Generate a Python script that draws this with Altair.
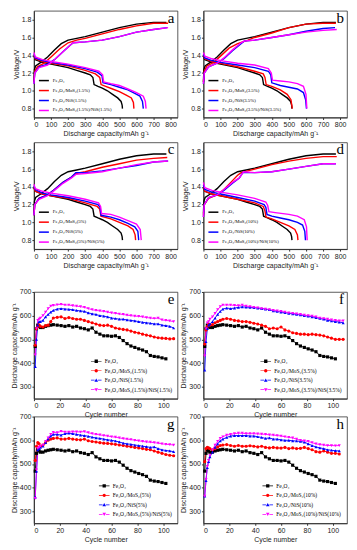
import altair as alt
import pandas as pd

COLORS = ["#000000", "#ff0000", "#0000ff", "#ff00ff"]
PCTS = ["1.5%", "3.5%", "5%", "10%"]
LETTERS_GCD = ["a", "b", "c", "d"]
LETTERS_CYC = ["e", "f", "g", "h"]
CAP_TICKS = [0, 100, 200, 300, 400, 500, 600, 700, 800]
VOLT_TICKS = [0.8, 1.0, 1.2, 1.4, 1.6, 1.8]
CYC_TICKS = [0, 20, 40, 60, 80, 100]
CAPY_TICKS = [300, 400, 500, 600, 700]

# ---------- galvanostatic curves (capacity mAh/g, voltage V) ----------
FE_DIS = [(0, 1.39), (8, 1.35), (50, 1.32), (100, 1.3), (150, 1.28), (200, 1.26), (250, 1.23), (300, 1.2), (330, 1.18), (345, 1.15), (352, 1.07), (375, 1.05), (400, 1.03), (430, 1.0), (460, 0.96), (490, 0.92), (510, 0.88), (516, 0.84), (518, 0.8)]
FE_CHG = [(0, 1.1), (3, 1.24), (10, 1.28), (40, 1.32), (80, 1.38), (120, 1.46), (160, 1.53), (200, 1.57), (250, 1.59), (300, 1.61), (400, 1.66), (500, 1.71), (600, 1.75), (700, 1.77), (775, 1.77)]

A_MOS_DIS = [(0, 1.4), (8, 1.36), (50, 1.33), (100, 1.31), (200, 1.28), (300, 1.23), (360, 1.19), (385, 1.15), (393, 1.07), (420, 1.05), (460, 1.02), (500, 0.99), (540, 0.95), (570, 0.92), (582, 0.87), (585, 0.8)]
A_MOS_CHG = [(0, 1.1), (5, 1.22), (20, 1.27), (60, 1.31), (100, 1.38), (150, 1.47), (200, 1.54), (250, 1.57), (300, 1.59), (400, 1.64), (500, 1.69), (600, 1.73), (700, 1.76), (785, 1.76)]
A_NIS_DIS = [(0, 1.41), (8, 1.37), (50, 1.34), (100, 1.32), (200, 1.29), (300, 1.25), (370, 1.21), (398, 1.17), (404, 1.09), (450, 1.07), (500, 1.04), (550, 1.01), (590, 0.97), (620, 0.94), (635, 0.88), (640, 0.8)]
A_NIS_CHG = [(0, 1.08), (5, 1.2), (30, 1.27), (80, 1.3), (120, 1.35), (170, 1.44), (210, 1.51), (230, 1.54), (300, 1.55), (400, 1.57), (500, 1.61), (600, 1.66), (700, 1.69), (780, 1.71)]
A_MIX_DIS = [(0, 1.43), (8, 1.38), (50, 1.35), (100, 1.33), (200, 1.3), (300, 1.26), (380, 1.22), (402, 1.18), (408, 1.1), (450, 1.08), (500, 1.06), (550, 1.02), (600, 0.98), (640, 0.94), (652, 0.88), (656, 0.8)]
A_MIX_CHG = [(0, 1.08), (5, 1.2), (30, 1.26), (80, 1.29), (120, 1.35), (170, 1.44), (210, 1.51), (230, 1.54), (300, 1.55), (400, 1.57), (500, 1.61), (600, 1.66), (700, 1.69), (785, 1.71)]

B_MOS_DIS = [(0, 1.4), (8, 1.36), (50, 1.33), (100, 1.31), (200, 1.27), (300, 1.22), (350, 1.19), (360, 1.15), (367, 1.07), (400, 1.05), (450, 1.01), (490, 0.96), (512, 0.9), (520, 0.8)]
B_MOS_CHG = [(0, 1.1), (5, 1.22), (20, 1.28), (60, 1.32), (100, 1.39), (150, 1.48), (200, 1.53), (260, 1.57), (300, 1.6), (400, 1.65), (500, 1.71), (600, 1.75), (700, 1.76), (775, 1.76)]
B_NIS_DIS = [(0, 1.41), (8, 1.37), (50, 1.34), (100, 1.32), (200, 1.29), (300, 1.26), (380, 1.22), (394, 1.18), (400, 1.09), (450, 1.06), (500, 1.04), (550, 1.02), (585, 0.98), (598, 0.9), (603, 0.8)]
B_NIS_CHG = [(0, 1.08), (5, 1.2), (30, 1.27), (80, 1.31), (120, 1.36), (170, 1.45), (220, 1.53), (240, 1.56), (300, 1.57), (400, 1.6), (500, 1.63), (600, 1.67), (700, 1.7), (770, 1.71)]
B_MIX_DIS = [(0, 1.43), (8, 1.39), (50, 1.36), (100, 1.34), (200, 1.31), (300, 1.29), (380, 1.25), (397, 1.2), (404, 1.12), (450, 1.11), (500, 1.1), (550, 1.08), (585, 1.05), (600, 0.96), (605, 0.8)]
B_MIX_CHG = [(0, 1.08), (5, 1.2), (30, 1.27), (80, 1.31), (120, 1.37), (170, 1.46), (220, 1.54), (240, 1.56), (300, 1.57), (400, 1.6), (500, 1.63), (600, 1.66), (700, 1.68), (780, 1.69)]

C_MOS_DIS = [(0, 1.39), (8, 1.35), (50, 1.32), (100, 1.3), (200, 1.27), (300, 1.22), (370, 1.18), (385, 1.15), (392, 1.07), (450, 1.04), (500, 1.0), (550, 0.96), (580, 0.92), (592, 0.86), (595, 0.8)]
C_MOS_CHG = [(0, 1.08), (5, 1.2), (30, 1.27), (80, 1.31), (120, 1.37), (170, 1.45), (220, 1.51), (245, 1.55), (300, 1.57), (400, 1.62), (500, 1.66), (600, 1.7), (700, 1.72), (780, 1.73)]
C_NIS_DIS = [(0, 1.41), (8, 1.37), (50, 1.33), (100, 1.31), (200, 1.28), (300, 1.24), (375, 1.2), (387, 1.17), (393, 1.08), (450, 1.06), (500, 1.03), (550, 0.99), (590, 0.95), (608, 0.9), (613, 0.8)]
C_NIS_CHG = [(0, 1.08), (5, 1.2), (30, 1.27), (80, 1.31), (120, 1.37), (170, 1.45), (220, 1.51), (245, 1.56), (300, 1.56), (400, 1.58), (500, 1.61), (600, 1.64), (700, 1.68), (785, 1.69)]
C_MIX_DIS = [(0, 1.43), (8, 1.38), (50, 1.35), (100, 1.33), (200, 1.3), (300, 1.26), (378, 1.22), (390, 1.18), (396, 1.1), (450, 1.09), (500, 1.06), (550, 1.02), (600, 0.98), (622, 0.92), (628, 0.8)]
C_MIX_CHG = [(0, 1.08), (5, 1.2), (30, 1.26), (80, 1.3), (120, 1.36), (170, 1.44), (220, 1.5), (245, 1.54), (300, 1.55), (400, 1.57), (500, 1.61), (600, 1.65), (700, 1.68), (785, 1.69)]

D_MOS_DIS = [(0, 1.4), (8, 1.35), (50, 1.32), (100, 1.3), (200, 1.26), (300, 1.22), (350, 1.18), (360, 1.13), (366, 1.06), (400, 1.04), (450, 1.0), (500, 0.96), (535, 0.92), (550, 0.86), (553, 0.8)]
D_MOS_CHG = [(0, 1.08), (5, 1.2), (30, 1.27), (80, 1.31), (120, 1.37), (170, 1.47), (200, 1.53), (220, 1.56), (300, 1.6), (400, 1.65), (500, 1.69), (600, 1.72), (700, 1.74), (780, 1.74)]
D_NIS_DIS = [(0, 1.42), (8, 1.37), (50, 1.34), (100, 1.32), (200, 1.28), (300, 1.24), (355, 1.2), (365, 1.17), (372, 1.09), (400, 1.07), (450, 1.05), (500, 1.03), (550, 1.0), (580, 0.97), (593, 0.9), (597, 0.8)]
D_NIS_CHG = [(0, 1.06), (5, 1.2), (30, 1.28), (80, 1.31), (120, 1.36), (170, 1.44), (210, 1.5), (230, 1.56), (300, 1.56), (400, 1.57), (500, 1.6), (600, 1.63), (700, 1.66), (775, 1.66)]
D_MIX_DIS = [(0, 1.45), (8, 1.39), (50, 1.36), (100, 1.34), (200, 1.31), (300, 1.27), (365, 1.23), (376, 1.19), (383, 1.12), (420, 1.11), (500, 1.09), (550, 1.07), (590, 1.03), (603, 0.95), (607, 0.8)]
D_MIX_CHG = [(0, 1.06), (5, 1.2), (30, 1.28), (80, 1.31), (120, 1.37), (170, 1.45), (210, 1.5), (235, 1.57), (300, 1.56), (400, 1.57), (500, 1.6), (600, 1.63), (700, 1.66), (775, 1.66)]

GCD = [
    [(FE_DIS, FE_CHG), (A_MOS_DIS, A_MOS_CHG), (A_NIS_DIS, A_NIS_CHG), (A_MIX_DIS, A_MIX_CHG)],
    [(FE_DIS, FE_CHG), (B_MOS_DIS, B_MOS_CHG), (B_NIS_DIS, B_NIS_CHG), (B_MIX_DIS, B_MIX_CHG)],
    [(FE_DIS, FE_CHG), (C_MOS_DIS, C_MOS_CHG), (C_NIS_DIS, C_NIS_CHG), (C_MIX_DIS, C_MIX_CHG)],
    [(FE_DIS, FE_CHG), (D_MOS_DIS, D_MOS_CHG), (D_NIS_DIS, D_NIS_CHG), (D_MIX_DIS, D_MIX_CHG)],
]

# ---------- cycling (cycle number, discharge capacity mAh/g) ----------
CYC = [1, 2, 3, 4, 5, 7, 9, 11, 13, 15, 18, 21, 24, 27, 30, 33, 36, 39, 42, 45, 48, 51, 54, 57, 60,
       63, 66, 69, 72, 75, 78, 81, 84, 87, 90, 93, 96, 99, 102, 105, 108]
FE_CYC = [470, 545, 560, 555, 550, 550, 555, 558, 560, 562, 560, 558, 555, 558, 552, 555, 548, 545, 540, 548,
          530, 522, 515, 515, 513, 515, 508, 495, 482, 472, 466, 460, 455, 448, 432, 428, 426, 422, 418]
E_MOS = [475, 545, 555, 560, 555, 552, 558, 560, 575, 590, 593, 595, 588, 592, 588, 585, 585, 580, 575, 570,
         565, 560, 558, 560, 555, 548, 545, 542, 540, 535, 530, 527, 522, 518, 515, 510, 507, 505, 504, 502, 503]
E_NIS = [385, 500, 560, 575, 575, 580, 595, 605, 615, 622, 628, 630, 628, 627, 625, 622, 620, 618, 612, 608,
         605, 600, 598, 595, 590, 588, 585, 585, 582, 580, 578, 575, 572, 570, 568, 565, 565, 560, 558, 555, 548]
E_MIX = [435, 545, 580, 585, 590, 600, 615, 630, 640, 643, 646, 648, 645, 645, 642, 640, 638, 635, 630, 625,
         622, 620, 618, 615, 612, 610, 607, 605, 602, 600, 598, 597, 595, 592, 590, 588, 590, 582, 580, 578, 575]
F_MOS = [480, 540, 555, 565, 560, 562, 570, 575, 580, 585, 588, 585, 580, 578, 575, 575, 572, 568, 565, 560,
         555, 545, 548, 545, 552, 540, 535, 528, 525, 522, 522, 520, 522, 520, 518, 515, 510, 505, 500, 500, 500]
F_NIS = [370, 490, 545, 560, 565, 575, 590, 605, 618, 628, 632, 630, 632, 635, 637, 636, 635, 634, 632, 630,
         628, 625, 620, 618, 615, 613, 610, 608, 605, 603, 600, 598, 595, 592, 588, 585, 580, 578, 575, 573, 570]
F_MIX = [430, 545, 570, 575, 585, 595, 610, 625, 638, 645, 645, 645, 643, 642, 645, 640, 638, 635, 633, 630,
         628, 625, 622, 620, 618, 615, 612, 610, 608, 605, 602, 600, 598, 595, 590, 588, 585, 582, 580, 578, 578]
G_MOS = [515, 575, 590, 585, 575, 580, 590, 600, 605, 608, 610, 605, 605, 608, 605, 603, 602, 605, 598, 595,
         593, 590, 588, 587, 585, 583, 580, 578, 575, 573, 570, 568, 565, 562, 560, 555, 550, 545, 540, 537, 535]
G_NIS = [360, 470, 560, 565, 570, 575, 590, 605, 618, 625, 625, 622, 628, 630, 628, 625, 622, 620, 617, 613,
         610, 608, 605, 602, 600, 597, 593, 588, 585, 583, 580, 578, 575, 573, 570, 572, 565, 560, 557, 555, 552]
G_MIX = [355, 475, 565, 570, 575, 580, 595, 610, 625, 633, 632, 638, 635, 635, 636, 636, 635, 637, 632, 628,
         625, 623, 620, 618, 615, 613, 610, 607, 605, 603, 600, 598, 595, 593, 592, 590, 588, 585, 583, 582, 580]
H_MOS = [510, 565, 570, 568, 565, 560, 565, 572, 578, 580, 582, 578, 575, 578, 575, 575, 577, 575, 572, 575,
         570, 568, 570, 568, 567, 570, 565, 568, 565, 566, 570, 565, 560, 552, 550, 555, 550, 545, 545, 542]
H_NIS = [365, 430, 485, 510, 530, 550, 570, 585, 598, 605, 612, 618, 620, 620, 620, 620, 618, 618, 615, 612,
         608, 610, 605, 605, 602, 600, 600, 598, 597, 595, 592, 585, 578, 572, 568, 565, 560, 558, 556, 555]
H_MIX = [365, 435, 490, 515, 535, 560, 580, 595, 608, 615, 622, 625, 628, 630, 630, 628, 628, 628, 627, 626,
         625, 623, 622, 620, 618, 615, 612, 610, 605, 600, 598, 595, 590, 585, 582, 580, 578, 578, 577, 578]

CYCLING = [
    [FE_CYC, E_MOS, E_NIS, E_MIX],
    [FE_CYC, F_MOS, F_NIS, F_MIX],
    [FE_CYC, G_MOS, G_NIS, G_MIX],
    [FE_CYC, H_MOS, H_NIS, H_MIX],
]

W, H = 144, 107
SERIF = "Liberation Serif"

# legend symbols: line segment with marker
BAR = "M-1.6,-0.1H-0.5V0.1H-1.6Z M0.5,-0.1H1.6V0.1H0.5Z"
LEG_PATHS = [
    BAR + " M-0.5,-0.5H0.5V0.5H-0.5Z",
    BAR + " M-0.5,0A0.5,0.5,0,1,0,0.5,0A0.5,0.5,0,1,0,-0.5,0Z",
    BAR + " M0,-0.55L0.55,0.45H-0.55Z",
    BAR + " M0,0.55L0.55,-0.45H-0.55Z",
]
MARKERS = ["square", "circle", "triangle-up", "triangle-down"]


def series_labels(p):
    return ["Fe\u2083O\u2084", f"Fe\u2083O\u2084/MoS\u2082({p})", f"Fe\u2083O\u2084/NiS({p})",
            f"Fe\u2083O\u2084/MoS\u2082({p})/NiS({p})"]


def tag(letter):
    return alt.Chart(pd.DataFrame({"t": [letter]})).mark_text(
        font=SERIF, fontSize=15, align="right", baseline="alphabetic", color="#000"
    ).encode(text="t:N", x=alt.value(W - 3), y=alt.value(12))


def gcd_panel(letter, pct, curves):
    labels = series_labels(pct)
    rows = []
    for lab, (dis, chg) in zip(labels, curves):
        for branch, pts in (("discharge", dis), ("charge", chg)):
            for i, (c, v) in enumerate(pts):
                rows.append({"series": lab, "branch": branch, "i": i, "cap": c, "volt": v})
    df = pd.DataFrame(rows)
    lines = alt.Chart(df).mark_line(strokeWidth=1.4).encode(
        x=alt.X("cap:Q", scale=alt.Scale(domain=[0, 840], nice=False),
                axis=alt.Axis(values=CAP_TICKS, title="Discharge capacity/mAh g\u207b\u00b9")),
        y=alt.Y("volt:Q", scale=alt.Scale(domain=[0.7, 1.9], nice=False, zero=False),
                axis=alt.Axis(values=VOLT_TICKS, format=".1f", title="Voltage/V")),
        color=alt.Color("series:N", scale=alt.Scale(domain=labels, range=COLORS),
                        legend=alt.Legend(title=None, orient="bottom-left", offset=4, padding=0,
                                          labelFont=SERIF, labelFontSize=4.8, labelColor="#000",
                                          symbolSize=100, symbolStrokeWidth=1.5, symbolType="stroke",
                                          rowPadding=1, labelOffset=3, labelLimit=300)),
        detail="branch:N",
        order="i:Q",
    )
    return alt.layer(lines, tag(letter)).properties(width=W, height=H)


def cyc_panel(letter, pct, vals_list):
    labels = series_labels(pct)
    rows = []
    for lab, vals in zip(labels, vals_list):
        for c, v in zip(CYC, vals):
            rows.append({"series": lab, "cycle": c, "capacity": v})
    df = pd.DataFrame(rows)
    x = alt.X("cycle:Q", scale=alt.Scale(domain=[0, 111], nice=False),
              axis=alt.Axis(values=CYC_TICKS, title="Cycle number"))
    y = alt.Y("capacity:Q", scale=alt.Scale(domain=[250, 700], nice=False, zero=False),
              axis=alt.Axis(values=CAPY_TICKS, title="Discharge capacity/mAh g\u207b\u00b9"))
    cscale = alt.Scale(domain=labels, range=COLORS)
    leg = alt.Legend(title=None, orient="bottom-right", offset=5, padding=0,
                     labelFont=SERIF, labelFontSize=5.5, labelColor="#000",
                     symbolSize=44, symbolStrokeWidth=0, symbolOpacity=1,
                     rowPadding=2.5, labelOffset=5, labelLimit=300)
    base = alt.Chart(df).encode(x=x, y=y)
    line = base.mark_line(strokeWidth=0.9).encode(
        color=alt.Color("series:N", scale=cscale, legend=None))
    pts = base.mark_point(filled=True, size=10, opacity=1).encode(
        color=alt.Color("series:N", scale=cscale, legend=None),
        shape=alt.Shape("series:N", scale=alt.Scale(domain=labels, range=MARKERS), legend=None))
    legl = base.mark_point(filled=True, opacity=0).encode(
        color=alt.Color("series:N", scale=cscale, legend=leg),
        shape=alt.Shape("series:N", scale=alt.Scale(domain=labels, range=LEG_PATHS), legend=leg))
    return alt.layer(line, pts, legl, tag(letter)).resolve_scale(
        color="independent", shape="independent").properties(width=W, height=H)


def spacer(h):
    return alt.Chart(pd.DataFrame({"v": [0]})).mark_point(opacity=0).properties(
        width=1, height=h, view=alt.ViewBackground(stroke=None))


P = [gcd_panel(LETTERS_GCD[k], PCTS[k], GCD[k]) for k in range(4)]
Q = [cyc_panel(LETTERS_CYC[k], PCTS[k], CYCLING[k]) for k in range(4)]

chart = alt.concat(
    P[0], P[1], spacer(9), spacer(9),
    P[2], P[3], spacer(27), spacer(27),
    Q[0], Q[1], spacer(2), spacer(2),
    Q[2], Q[3],
    columns=2,
    spacing=alt.RowColnumber(row=8, column=26),
    bounds="flush",
).resolve_scale(color="independent", shape="independent").properties(
    padding=1
).configure_view(
    stroke="#333", strokeWidth=0.8
).configure_axis(
    labelFont="Liberation Sans", labelFontSize=7, labelColor="#222",
    titleFont="Liberation Sans", titleFontSize=7, titleFontWeight="normal", titleColor="#222",
    domainColor="#333", tickColor="#333", tickSize=2, labelPadding=1, titlePadding=2, grid=False,
)

chart.save("out.html", embed_options={"renderer": "svg", "actions": False})
